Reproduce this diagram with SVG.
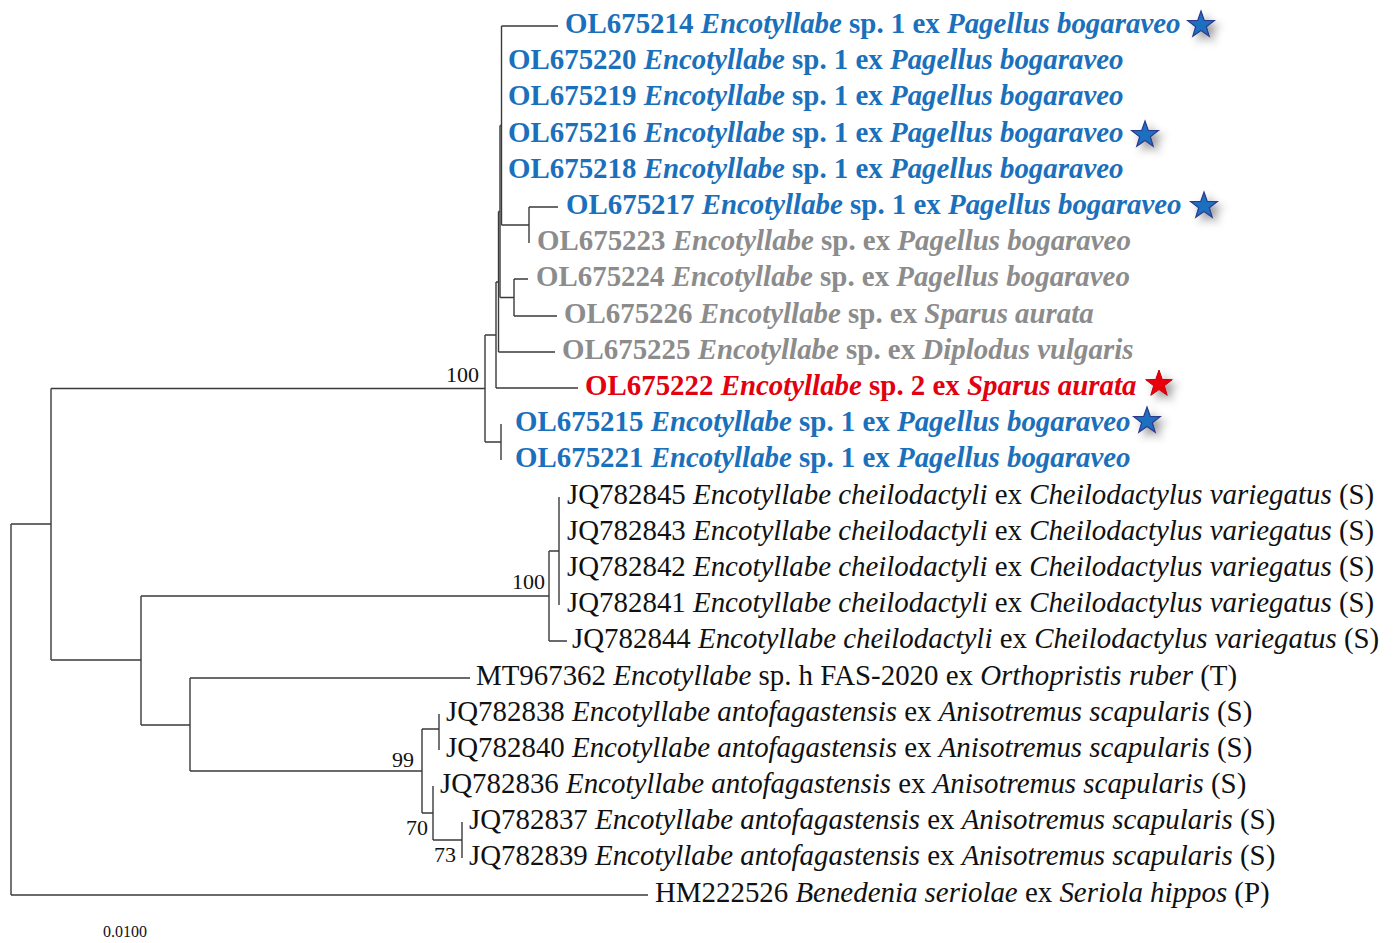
<svg xmlns="http://www.w3.org/2000/svg" width="1394" height="943" viewBox="0 0 1394 943">
<style>
.t{font-family:"Liberation Serif","Times New Roman",serif;font-size:28.9px;fill:#111}
.b{font-weight:bold}
.blue{fill:#1b70bb}
.gray{fill:#8c8c8c}
.red{fill:#e3000f}
.i{font-style:italic}
.bs{font-family:"Liberation Serif","Times New Roman",serif;font-size:22px;fill:#111;text-anchor:end}
.sc{font-family:"Liberation Serif","Times New Roman",serif;font-size:16px;fill:#111}
.ln{fill:none;stroke:#3a3a3a;stroke-width:1.4}
</style>
<defs>
<filter id="sh" x="-50%" y="-50%" width="250%" height="250%">
<feDropShadow dx="5" dy="5" stdDeviation="4" flood-color="#000" flood-opacity="0.4"/>
</filter>
<polygon id="star" points="0,-14 3.29,-4.53 13.31,-4.33 5.33,1.73 8.23,11.33 0,5.6 -8.23,11.33 -5.33,1.73 -13.31,-4.33 -3.29,-4.53"/>
</defs>
<rect width="1394" height="943" fill="#fff"/>
<g id="connectors" class="ln">
<path d="M501.5,26V225M501.5,26H558M501.5,225H529"/>
<path d="M529,207V243M529,207H558"/>
<path d="M514,279V316M514,279H528M514,316H557"/>
<path d="M500,125.5V297.5M500,297.5H514M500,125.5H501.5"/>
<path d="M498.5,211.5V352M498.5,352H555M498.5,211.5H500"/>
<path d="M496,282V388M496,388H578M496,282H498.5"/>
<path d="M485,335V442M485,335H496M485,442H501"/>
<path d="M501,424V460"/>
<path d="M51,388.5V660M51,388.5H485M51,660H141"/>
<path d="M11,524V895M11,524H51M11,895H648"/>
<path d="M141,596V725M141,596H549M141,725H190"/>
<path d="M549,551V641M549,551H559M549,641H567"/>
<path d="M559,497V605"/>
<path d="M190,678V771M190,678H470M190,771H422"/>
<path d="M422,729V813M422,729H439M422,813H433"/>
<path d="M439,714V750"/>
<path d="M433,786V840M433,840H462"/>
<path d="M462,822V858"/>
</g>
<g id="bootstrap">
<text class="bs" x="479" y="382">100</text>
<text class="bs" x="545" y="589">100</text>
<text class="bs" x="414" y="767">99</text>
<text class="bs" x="428" y="835">70</text>
<text class="bs" x="456" y="862">73</text>
</g>
<g id="n-OL675214"><text class="t b blue" x="565" y="33">OL675214 <tspan class="i">Encotyllabe</tspan> sp. 1 ex <tspan class="i">Pagellus bogaraveo</tspan></text><use href="#star" x="1201" y="25" fill="#1f6fc0" stroke="#2b3a8c" stroke-width="1.2" filter="url(#sh)"/></g>
<g id="n-OL675220"><text class="t b blue" x="508" y="69">OL675220 <tspan class="i">Encotyllabe</tspan> sp. 1 ex <tspan class="i">Pagellus bogaraveo</tspan></text></g>
<g id="n-OL675219"><text class="t b blue" x="508" y="105">OL675219 <tspan class="i">Encotyllabe</tspan> sp. 1 ex <tspan class="i">Pagellus bogaraveo</tspan></text></g>
<g id="n-OL675216"><text class="t b blue" x="508" y="142">OL675216 <tspan class="i">Encotyllabe</tspan> sp. 1 ex <tspan class="i">Pagellus bogaraveo</tspan></text><use href="#star" x="1145" y="135" fill="#1f6fc0" stroke="#2b3a8c" stroke-width="1.2" filter="url(#sh)"/></g>
<g id="n-OL675218"><text class="t b blue" x="508" y="178">OL675218 <tspan class="i">Encotyllabe</tspan> sp. 1 ex <tspan class="i">Pagellus bogaraveo</tspan></text></g>
<g id="n-OL675217"><text class="t b blue" x="566" y="214">OL675217 <tspan class="i">Encotyllabe</tspan> sp. 1 ex <tspan class="i">Pagellus bogaraveo</tspan></text><use href="#star" x="1204" y="206" fill="#1f6fc0" stroke="#2b3a8c" stroke-width="1.2" filter="url(#sh)"/></g>
<g id="n-OL675223"><text class="t b gray" x="537" y="250">OL675223 <tspan class="i">Encotyllabe</tspan> sp. ex <tspan class="i">Pagellus bogaraveo</tspan></text></g>
<g id="n-OL675224"><text class="t b gray" x="536" y="286">OL675224 <tspan class="i">Encotyllabe</tspan> sp. ex <tspan class="i">Pagellus bogaraveo</tspan></text></g>
<g id="n-OL675226"><text class="t b gray" x="564" y="323">OL675226 <tspan class="i">Encotyllabe</tspan> sp. ex <tspan class="i">Sparus aurata</tspan></text></g>
<g id="n-OL675225"><text class="t b gray" x="562" y="359">OL675225 <tspan class="i">Encotyllabe</tspan> sp. ex <tspan class="i">Diplodus vulgaris</tspan></text></g>
<g id="n-OL675222"><text class="t b red" x="585" y="395">OL675222 <tspan class="i">Encotyllabe</tspan> sp. 2 ex <tspan class="i">Sparus aurata</tspan></text><use href="#star" x="1159" y="384" fill="#e8000f" stroke="#c0000c" stroke-width="1" filter="url(#sh)"/></g>
<g id="n-OL675215"><text class="t b blue" x="515" y="431">OL675215 <tspan class="i">Encotyllabe</tspan> sp. 1 ex <tspan class="i">Pagellus bogaraveo</tspan></text><use href="#star" x="1147" y="421" fill="#1f6fc0" stroke="#2b3a8c" stroke-width="1.2" filter="url(#sh)"/></g>
<g id="n-OL675221"><text class="t b blue" x="515" y="467">OL675221 <tspan class="i">Encotyllabe</tspan> sp. 1 ex <tspan class="i">Pagellus bogaraveo</tspan></text></g>
<g id="n-JQ782845"><text class="t" x="567" y="504">JQ782845 <tspan class="i">Encotyllabe cheilodactyli</tspan> ex <tspan class="i">Cheilodactylus variegatus</tspan> (S)</text></g>
<g id="n-JQ782843"><text class="t" x="567" y="540">JQ782843 <tspan class="i">Encotyllabe cheilodactyli</tspan> ex <tspan class="i">Cheilodactylus variegatus</tspan> (S)</text></g>
<g id="n-JQ782842"><text class="t" x="567" y="576">JQ782842 <tspan class="i">Encotyllabe cheilodactyli</tspan> ex <tspan class="i">Cheilodactylus variegatus</tspan> (S)</text></g>
<g id="n-JQ782841"><text class="t" x="567" y="612">JQ782841 <tspan class="i">Encotyllabe cheilodactyli</tspan> ex <tspan class="i">Cheilodactylus variegatus</tspan> (S)</text></g>
<g id="n-JQ782844"><text class="t" x="572" y="648">JQ782844 <tspan class="i">Encotyllabe cheilodactyli</tspan> ex <tspan class="i">Cheilodactylus variegatus</tspan> (S)</text></g>
<g id="n-MT967362"><text class="t" x="476" y="685">MT967362 <tspan class="i">Encotyllabe</tspan> sp. h FAS-2020 ex <tspan class="i">Orthopristis ruber</tspan> (T)</text></g>
<g id="n-JQ782838"><text class="t" x="446" y="721">JQ782838 <tspan class="i">Encotyllabe antofagastensis</tspan> ex <tspan class="i">Anisotremus scapularis</tspan> (S)</text></g>
<g id="n-JQ782840"><text class="t" x="446" y="757">JQ782840 <tspan class="i">Encotyllabe antofagastensis</tspan> ex <tspan class="i">Anisotremus scapularis</tspan> (S)</text></g>
<g id="n-JQ782836"><text class="t" x="440" y="793">JQ782836 <tspan class="i">Encotyllabe antofagastensis</tspan> ex <tspan class="i">Anisotremus scapularis</tspan> (S)</text></g>
<g id="n-JQ782837"><text class="t" x="469" y="829">JQ782837 <tspan class="i">Encotyllabe antofagastensis</tspan> ex <tspan class="i">Anisotremus scapularis</tspan> (S)</text></g>
<g id="n-JQ782839"><text class="t" x="469" y="865">JQ782839 <tspan class="i">Encotyllabe antofagastensis</tspan> ex <tspan class="i">Anisotremus scapularis</tspan> (S)</text></g>
<g id="n-HM222526"><text class="t" x="655" y="902">HM222526 <tspan class="i">Benedenia seriolae</tspan> ex <tspan class="i">Seriola hippos</tspan> (P)</text></g>
<g id="scale"><text class="sc" x="103" y="937">0.0100</text></g>
</svg>
